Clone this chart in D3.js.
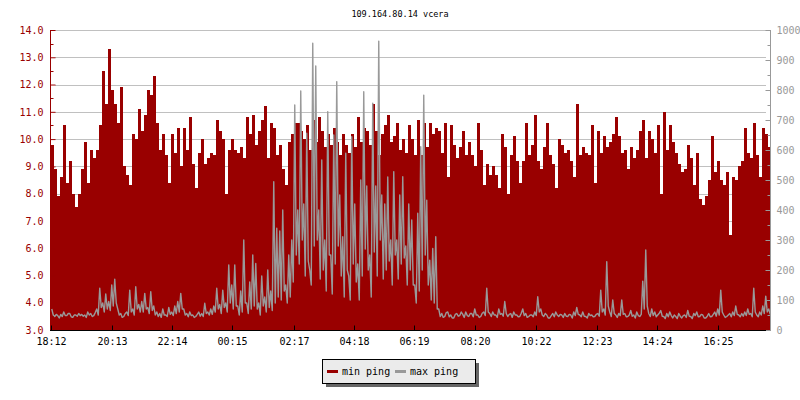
<!DOCTYPE html>
<html><head><meta charset="utf-8">
<script src="https://cdn.jsdelivr.net/npm/d3@7/dist/d3.min.js"></script>
<style>body{margin:0;background:#fff}svg{display:block}text{font-family:"DejaVu Sans Mono",monospace;font-size:10px}</style>
</head><body>
<svg id="c" width="800" height="400"></svg>
<script>
const chartTitle = "109.164.80.14 vcera";
const seriesNames = ["min ping", "max ping"];
const tickMinutes = [0,121,242,363,485,606,727,848,970,1091,1212,1333];
const tickLabels = ["18:12","20:13","22:14","00:15","02:17","04:18","06:19","08:20","10:22","12:23","14:24","16:25"];
const leftTicks = [3,4,5,6,7,8,9,10,11,12,13,14];
const rightTicks = [0,100,200,300,400,500,600,700,800,900,1000];
const minStep = 6;   // minutes per min-ping sample
const maxStep = 3;   // minutes per max-ping sample

// min ping (left axis, ms), one value per 6 minutes from 18:12
const minPing = [
 9.8,8.9,7.9,8.6,10.5,8.4,9.2,8.0,7.5,8.0,
 8.9,9.9,8.4,9.6,9.3,9.6,10.5,12.5,11.3,13.3,
 11.8,11.3,10.6,11.9,9.0,8.7,8.3,10.2,10.0,11.1,
 10.3,10.9,11.8,11.6,12.3,10.6,9.6,10.2,9.4,8.4,
 10.2,9.5,10.4,9.0,10.4,9.6,10.8,9.1,8.2,9.5,
 10.0,9.1,9.3,9.5,9.4,10.7,10.3,10.0,8.0,9.6,
 10.0,9.6,9.5,9.7,9.3,10.8,10.2,10.9,9.8,10.3,
 10.7,11.2,9.3,10.6,10.4,9.4,9.8,8.9,8.3,9.9,
 10.2,10.6,10.6,10.3,10.0,10.5,9.6,10.7,9.9,10.8,
 10.3,9.7,10.2,9.8,10.4,9.9,9.4,10.2,9.8,9.5,
 10.2,9.7,10.8,9.9,10.4,10.3,9.8,11.3,10.3,9.4,
 10.2,10.5,10.9,9.9,10.1,10.6,9.6,10.0,9.5,10.5,
 10.0,9.4,10.7,9.4,10.6,9.7,10.6,10.2,10.4,10.3,
 9.5,10.6,8.6,10.5,9.8,9.3,9.7,10.3,9.4,9.9,
 9.4,9.0,10.6,9.6,8.3,9.1,8.7,9.0,8.7,8.2,
 10.2,9.7,8.0,9.4,10.1,9.2,8.4,9.2,10.6,9.4,
 9.8,10.9,9.2,8.9,9.7,10.6,9.4,9.1,8.2,10.0,
 9.8,9.5,9.6,9.2,8.6,11.3,9.4,9.7,9.5,9.4,
 10.5,8.4,10.3,9.5,10.1,9.7,9.9,10.2,10.8,10.1,
 9.5,9.6,8.9,9.7,9.3,9.6,10.3,10.7,9.3,10.3,
 10.0,9.5,10.5,8.0,11.0,9.6,10.5,9.9,9.5,9.1,
 8.8,8.9,9.8,9.3,8.3,9.5,7.8,7.6,7.9,8.5,
 10.1,8.8,9.2,8.5,8.3,8.8,6.5,8.6,8.5,9.0,
 9.2,10.4,9.5,9.3,10.6,9.4,8.6,10.4,10.2,9.7
];

// max ping (right axis, ms), one value per 3 minutes from 18:12
const maxPing = [
 70,50, 45,52, 48,40, 52,45, 60,48, 48,55, 55,44, 42,50, 50,46, 55,48,
 52,46, 50,42, 60,50, 55,45, 48,58, 70,50, 139,75, 90,60, 120,70, 95,65,
 150,80, 169,90, 70,50, 55,42, 45,55, 60,48, 133,60, 70,50, 144,70, 85,60,
 95,60, 122,70, 75,55, 128,65, 80,50, 60,45, 55,42, 70,50, 50,45, 75,52,
 60,48, 80,55, 95,60, 122,70, 70,50, 55,44, 60,48, 50,42, 45,52, 60,46,
 55,45, 89,55, 60,50, 70,52, 80,60, 139,70, 85,55, 133,75, 90,60, 217,90,
 150,70, 217,80, 80,50, 130,60, 300,90, 90,55, 160,70, 250,80, 222,70, 90,50,
 180,80, 110,60, 200,75, 130,65, 494,90, 339,110, 330,100, 400,130, 150,90, 250,110,
 300,160, 750,250, 400,220, 797,300, 420,180, 656,230, 200,150, 956,280, 880,300, 400,170,
 567,200, 300,130, 728,250, 250,120, 650,220, 828,280, 450,180, 311,110, 589,200, 180,100,
 644,220, 420,160, 220,100, 500,180, 794,270, 480,200, 250,110, 756,260, 480,180, 963,300,
 450,170, 420,200, 510,230, 300,150, 528,250, 300,170, 450,220, 511,240, 280,150, 420,200,
 367,150, 150,90, 389,130, 611,200, 783,250, 433,150, 233,100, 272,90, 311,70, 70,45,
 55,42, 45,58, 60,44, 50,40, 40,52, 55,46, 48,60, 52,42, 60,48, 45,55,
 55,44, 70,50, 50,42, 45,56, 60,48, 139,60, 55,45, 60,50, 50,42, 70,52,
 55,46, 95,55, 45,52, 55,42, 60,50, 50,44, 45,56, 70,48, 55,42, 45,50,
 50,44, 60,48, 111,60, 70,50, 45,55, 50,40, 40,48, 55,44, 60,50, 45,52,
 50,42, 55,46, 45,52, 50,40, 60,48, 75,52, 50,44, 60,46, 45,40, 55,48,
 50,44, 45,52, 55,46, 133,60, 70,50, 228,80, 60,45, 100,55, 50,42, 55,48,
 100,52, 55,44, 45,50, 65,46, 50,40, 60,48, 45,52, 163,70, 267,80, 55,45,
 70,48, 60,44, 50,56, 65,46, 45,38, 55,44, 60,48, 40,50, 45,38, 55,46,
 40,48, 50,42, 65,46, 45,38, 55,48, 60,44, 45,52, 50,40, 40,46, 55,44,
 45,52, 60,46, 70,50, 133,60, 50,42, 45,50, 55,44, 60,48, 80,52, 50,44,
 55,46, 60,48, 70,52, 55,44, 139,60, 50,44, 60,50, 80,55, 113,60, 70,52
];

const RED = "#990000", GRAY = "#999999";
const svg = d3.select("#c");
const L = 51, R = 770, T = 30, B = 330;
const x = d3.scaleLinear().domain([0, 1438]).range([L, R]);
const yL = d3.scaleLinear().domain([3, 14]).range([B, T]);
const yR = d3.scaleLinear().domain([0, 1000]).range([B, T]);

svg.append("defs").append("clipPath").attr("id","plot")
  .append("rect").attr("x", L).attr("y", T - 2).attr("width", R - L).attr("height", B - T + 2);

// title
svg.append("text").attr("x", 400).attr("y", 17).attr("text-anchor","middle").attr("fill","#000")
  .style("font-size","8.5px").text(chartTitle);

// grid lines (left axis integers)
svg.append("g").selectAll("line").data(leftTicks.filter(d => d > 3)).join("line")
  .attr("x1", L + 4).attr("x2", R - 4)
  .attr("y1", d => Math.round(yL(d)) + 0.5).attr("y2", d => Math.round(yL(d)) + 0.5)
  .attr("stroke", "#c0c0c0").attr("stroke-width", 1);

// min ping area (step)
const areaData = minPing.map((v, i) => ({t: i * minStep, v}));
areaData.push({t: minPing.length * minStep, v: minPing[minPing.length - 1]});
svg.append("path").datum(areaData)
  .attr("clip-path","url(#plot)")
  .attr("fill", RED).attr("shape-rendering","crispEdges")
  .attr("d", d3.area().curve(d3.curveStepAfter).x(d => x(d.t)).y0(B).y1(d => yL(d.v)));

// max ping line
svg.append("path").datum(maxPing.map((v, i) => ({t: i * maxStep + maxStep / 2, v})))
  .attr("clip-path","url(#plot)")
  .attr("fill","none").attr("stroke", GRAY).attr("stroke-width", 1.4).attr("stroke-linejoin","round")
  .attr("d", d3.line().x(d => x(d.t)).y(d => yR(d.v)));

// left axis
const gl = svg.append("g").attr("transform", `translate(${L - 0.5},0)`);
gl.call(d3.axisLeft(yL).tickValues(leftTicks).tickFormat(d3.format(".1f")).tickSize(-5).tickSizeOuter(0).tickPadding(7));
gl.select(".domain").remove();
gl.selectAll(".tick line").attr("stroke", RED);
gl.selectAll(".tick text").attr("fill", RED).style("font-size","10px").style("font-family","DejaVu Sans Mono");
gl.append("g").selectAll("line").data(d3.range(3.5, 14, 1)).join("line")
  .attr("x1", 0).attr("x2", 3).attr("y1", d => Math.round(yL(d)) + 0.5).attr("y2", d => Math.round(yL(d)) + 0.5).attr("stroke", RED);
gl.append("line").attr("x1",0).attr("x2",0).attr("y1",T).attr("y2",B+1).attr("stroke",RED);

// right axis
const gr = svg.append("g").attr("transform", `translate(${R + 0.5},0)`);
gr.call(d3.axisRight(yR).tickValues(rightTicks).tickFormat(d3.format("d")).tickSize(-5).tickSizeOuter(0).tickPadding(6));
gr.select(".domain").remove();
gr.selectAll(".tick line").attr("stroke", GRAY);
gr.selectAll(".tick text").attr("fill", GRAY).style("font-size","10px").style("font-family","DejaVu Sans Mono");
gr.append("g").selectAll("line").data(d3.range(50, 1000, 100)).join("line")
  .attr("x1", 0).attr("x2", -3).attr("y1", d => Math.round(yR(d)) + 0.5).attr("y2", d => Math.round(yR(d)) + 0.5).attr("stroke", GRAY);
gr.append("line").attr("x1",0).attr("x2",0).attr("y1",T).attr("y2",B+1).attr("stroke",GRAY);

// bottom axis
const gb = svg.append("g").attr("transform", `translate(0,${B + 0.5})`);
gb.call(d3.axisBottom(x).tickValues(tickMinutes).tickFormat((d, i) => tickLabels[i]).tickSize(-5).tickSizeOuter(0).tickPadding(7));
gb.select(".domain").remove();
gb.selectAll(".tick").attr("transform", d => `translate(${Math.round(x(d)) + 0.5},0)`);
gb.selectAll(".tick line").attr("stroke", "#000");
gb.selectAll(".tick text").attr("fill", "#000").style("font-size","10px").style("font-family","DejaVu Sans Mono");
gb.append("line").attr("x1", L - 1).attr("x2", R - 4).attr("y1", 0).attr("y2", 0).attr("stroke", "#000");

// legend
const lg = svg.append("g");
lg.append("rect").attr("x", 326).attr("y", 363).attr("width", 153).attr("height", 24).attr("fill", "#666");
lg.append("rect").attr("x", 322.5).attr("y", 359.5).attr("width", 153).attr("height", 24).attr("fill", "#ebebeb").attr("stroke", "#000");
const items = [{name: seriesNames[0], color: RED, x: 327}, {name: seriesNames[1], color: GRAY, x: 395}];
items.forEach(it => {
  lg.append("line").attr("x1", it.x).attr("x2", it.x + 11).attr("y1", 371.5).attr("y2", 371.5).attr("stroke", it.color).attr("stroke-width", 3);
  lg.append("text").attr("x", it.x + 15).attr("y", 375).attr("fill", "#000").text(it.name);
});
</script>
</body></html>
